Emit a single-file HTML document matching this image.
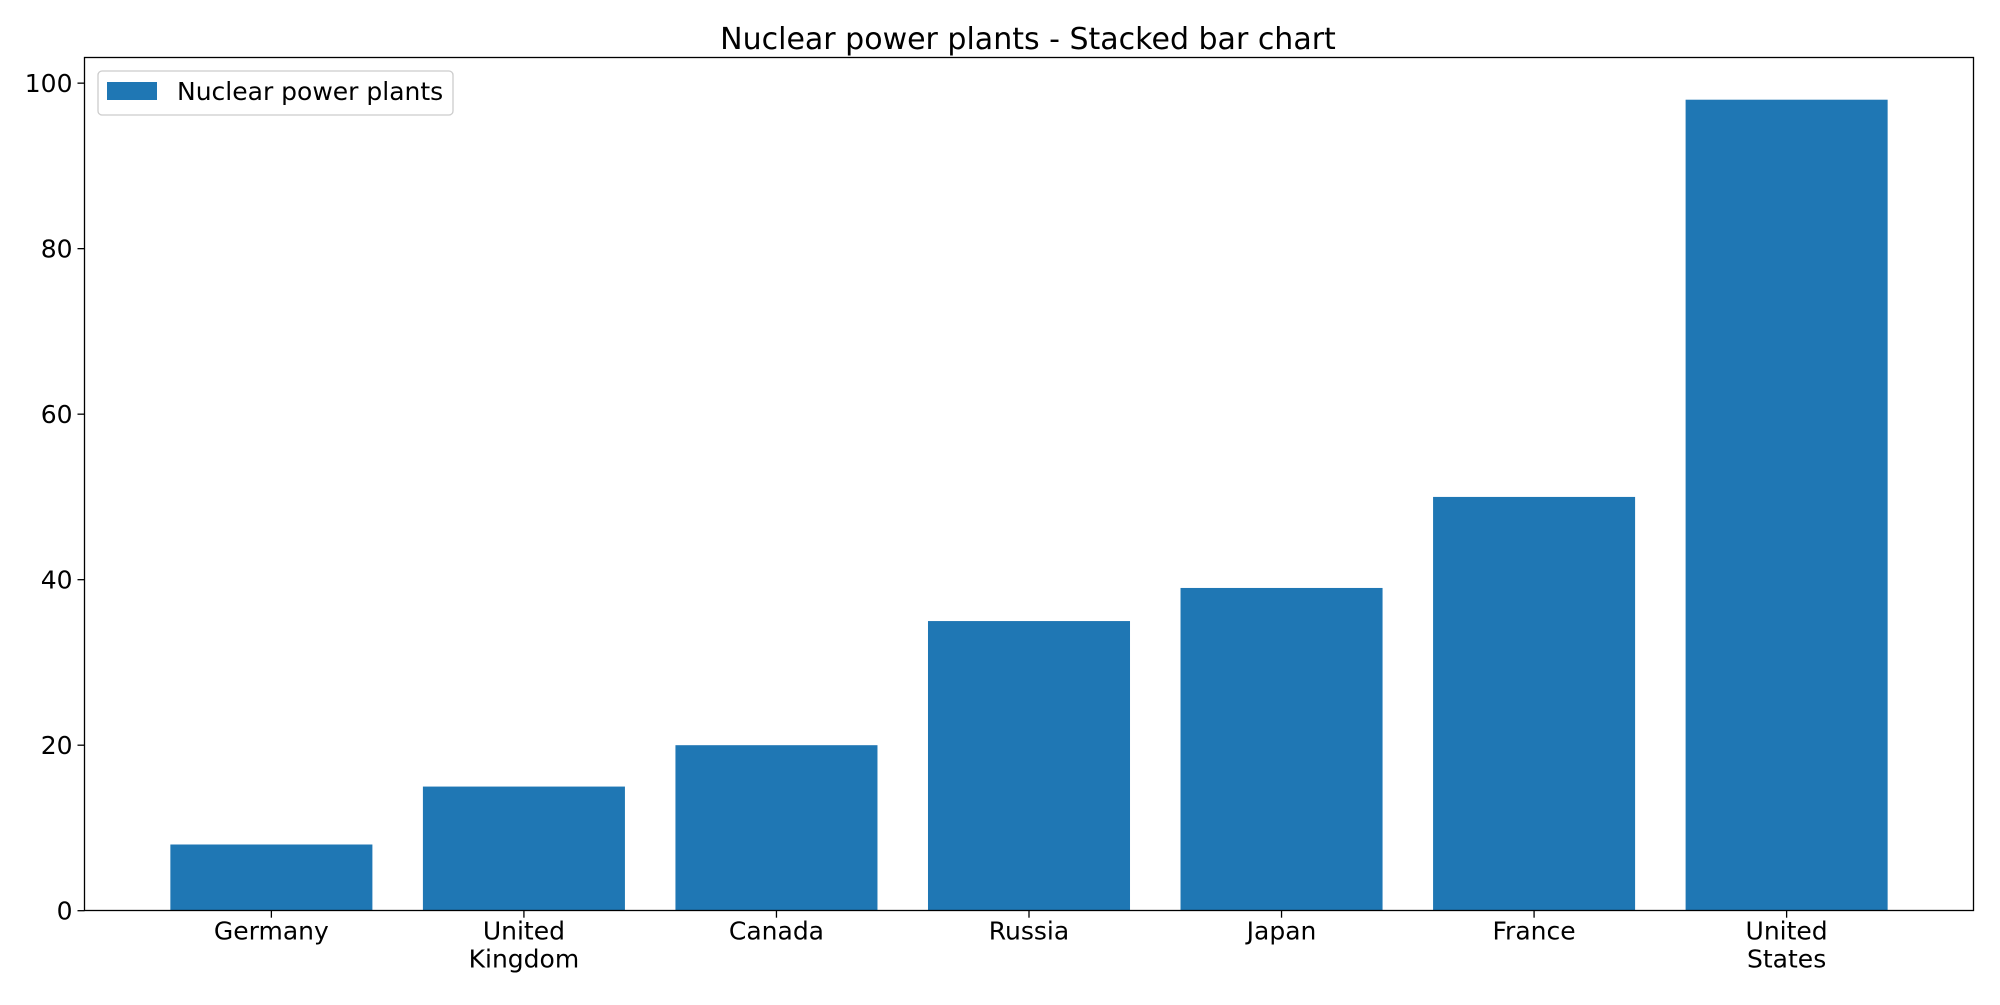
<!DOCTYPE html>
<html><head><meta charset="utf-8"><style>
html,body{margin:0;padding:0;background:#fff;}
svg text{font-family:"DejaVu Sans","Liberation Sans",sans-serif;fill:#000;}
</style></head><body>
<svg id="chart" width="2000" height="1000" viewBox="0 0 2000 1000" xmlns="http://www.w3.org/2000/svg">
<text x="1028" y="49" font-size="30" text-anchor="middle">Nuclear power plants - Stacked bar chart</text>
<g id="bars"></g>
<g id="yticks"></g>
<g id="xticks"></g>
<rect x="84.5" y="57.5" width="1889" height="853" fill="none" stroke="#000" stroke-width="1.3"/>
<g>
<rect x="98" y="71" width="355" height="44" rx="4" fill="#fff" stroke="#ccc" stroke-width="1.3"/>
<rect x="107" y="82" width="50" height="18" fill="#1f77b4"/>
<text x="177" y="100" font-size="25">Nuclear power plants</text>
</g>
</svg>
<script>
const categories = [["Germany"],["United","Kingdom"],["Canada"],["Russia"],["Japan"],["France"],["United","States"]];
const values = [8, 15, 20, 35, 39, 50, 98];
const yTicks = [0, 20, 40, 60, 80, 100];
const L=84.5,R=1973.5,T=57.5,B=910.7;
const xmin=-0.74,xmax=6.74,ymin=0,ymax=103.1;
const xs=v=>L+(v-xmin)/(xmax-xmin)*(R-L);
const ys=v=>B-(v-ymin)/(ymax-ymin)*(B-T);
const NS="http://www.w3.org/2000/svg";
const bars=document.getElementById('bars'),yt=document.getElementById('yticks'),xt=document.getElementById('xticks');
values.forEach((v,i)=>{
 const r=document.createElementNS(NS,'rect');
 r.setAttribute('x',xs(i-0.4));r.setAttribute('width',xs(i+0.4)-xs(i-0.4));
 r.setAttribute('y',ys(v));r.setAttribute('height',ys(0)-ys(v));r.setAttribute('fill','#1f77b4');
 
 
 bars.appendChild(r);
});
yTicks.forEach(t=>{
 const l=document.createElementNS(NS,'line');
 l.setAttribute('x1',L-7);l.setAttribute('x2',L);l.setAttribute('y1',ys(t));l.setAttribute('y2',ys(t));l.setAttribute('stroke','#000');l.setAttribute('stroke-width','1.3');
 
 
 yt.appendChild(l);
 const tx=document.createElementNS(NS,'text');
 tx.setAttribute('x',L-12);tx.setAttribute('y',ys(t)+9);tx.setAttribute('font-size','25');tx.setAttribute('text-anchor','end');tx.textContent=t;
 
 
 yt.appendChild(tx);
});
categories.forEach((c,i)=>{
 const l=document.createElementNS(NS,'line');
 l.setAttribute('x1',xs(i));l.setAttribute('x2',xs(i));l.setAttribute('y1',B);l.setAttribute('y2',B+7);l.setAttribute('stroke','#000');l.setAttribute('stroke-width','1.3');
 
 
 xt.appendChild(l);
 c.forEach((line,j)=>{
  const tx=document.createElementNS(NS,'text');
  tx.setAttribute('x',xs(i));tx.setAttribute('y',B+29+j*28);tx.setAttribute('font-size','25');tx.setAttribute('text-anchor','middle');tx.textContent=line;
  
  
  xt.appendChild(tx);
 });
});
</script>
</body></html>
